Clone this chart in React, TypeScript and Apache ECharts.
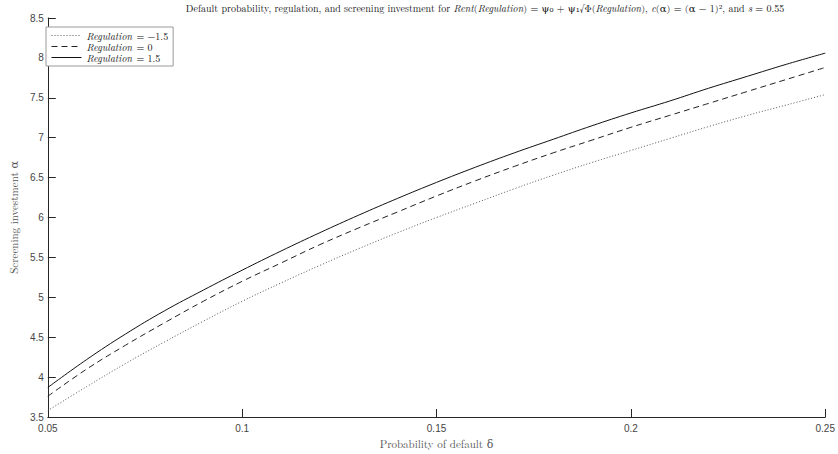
import React, { useEffect, useRef } from "react";
import * as echarts from "echarts";

const deltas = [0.05, 0.06, 0.07, 0.08, 0.09, 0.1, 0.11, 0.12, 0.13, 0.14, 0.15, 0.16, 0.17, 0.18, 0.19, 0.2, 0.21, 0.22, 0.23, 0.24, 0.25];
const regLow = [3.58, 3.88, 4.17, 4.44, 4.7, 4.95, 5.18, 5.4, 5.61, 5.81, 6.0, 6.18, 6.36, 6.53, 6.69, 6.84, 6.99, 7.14, 7.28, 7.41, 7.54];
const regMid = [3.76, 4.1, 4.4, 4.68, 4.95, 5.2, 5.43, 5.66, 5.87, 6.07, 6.27, 6.46, 6.64, 6.81, 6.97, 7.13, 7.28, 7.43, 7.58, 7.73, 7.88];
const regHigh = [3.87, 4.22, 4.54, 4.83, 5.09, 5.34, 5.58, 5.81, 6.03, 6.24, 6.44, 6.63, 6.81, 6.98, 7.15, 7.31, 7.46, 7.62, 7.77, 7.92, 8.06];
const seriesNames = ["Regulation = −1.5", "Regulation = 0", "Regulation = 1.5"];
const xTickLabels: Record<string, string> = { "0.05": "0.05", "0.1": "0.1", "0.15": "0.15", "0.2": "0.2", "0.25": "0.25" };

const SERIF = "'Latin Modern Roman', 'DejaVu Serif', 'Liberation Serif', serif";
const SANS = "'Liberation Sans', Arial, sans-serif";

export default function App() {
  const ref = useRef<HTMLDivElement>(null);
  useEffect(() => {
    if (!ref.current) return;
    const chart = echarts.init(ref.current, undefined, { renderer: "svg" });
    const mk = (vals: number[]) => deltas.map((d, i) => [d, vals[i]]);
    const lineStyles = [
      { color: "#555", width: 1, type: [1, 2] as any },
      { color: "#222", width: 1, type: [6, 4] as any },
      { color: "#111", width: 1, type: "solid" as any },
    ];
    const datas = [regLow, regMid, regHigh];
    chart.setOption({
      animation: false,
      backgroundColor: "#fff",
      title: {
        left: 485,
        textAlign: "center",
        top: 3,
        padding: 0,
        text: "Default probability, regulation, and screening investment for {i|Rent}({i|Regulation}) = ψ₀ + ψ₁√Φ({i|Regulation}), {i|c}(α) = (α − 1)², and {i|s} = 0.55",
        textStyle: {
          fontFamily: SERIF,
          fontSize: 10,
          fontWeight: "normal",
          color: "#111",
          rich: {
            i: { fontFamily: SERIF, fontSize: 10, fontStyle: "italic", color: "#111" },
          },
        },
      },
      legend: {
        left: 46,
        top: 27,
        orient: "vertical",
        data: seriesNames,
        itemWidth: 30,
        itemHeight: 8,
        itemGap: 0,
        padding: [3, 5, 3, 5],
        backgroundColor: "#fff",
        borderColor: "#999",
        borderWidth: 1,
        borderRadius: 0,
        itemStyle: { opacity: 0 },
        lineStyle: { width: 1 },
        formatter: (name: string) => {
          const parts = name.split(" = ");
          return "{i|" + parts[0] + "}{n| = " + parts[1] + "}";
        },
        textStyle: {
          fontFamily: SERIF,
          fontSize: 10,
          color: "#111",
          lineHeight: 11,
          rich: {
            i: { fontFamily: SERIF, fontSize: 10, fontStyle: "italic", color: "#111", lineHeight: 11, padding: [0, 1, 0, 0] },
            n: { fontFamily: SERIF, fontSize: 10, color: "#111", lineHeight: 11 },
          },
        },
      },
      grid: { left: 36, right: 11, top: 18, bottom: 33, containLabel: false },
      xAxis: {
        type: "value",
        min: 0.05,
        max: 0.25,
        interval: 0.05,
        name: "Probability of default δ",
        nameLocation: "middle",
        nameGap: 21,
        nameTextStyle: { fontFamily: SERIF, fontSize: 11, color: "#555" },
        axisLine: { show: true, lineStyle: { color: "#262626", width: 1 } },
        axisTick: { show: true, inside: true, length: 8, lineStyle: { color: "#262626" } },
        axisLabel: {
          fontFamily: SANS,
          fontSize: 10,
          color: "#444",
          margin: 6,
          formatter: (v: number) => xTickLabels[String(Math.round(v * 100) / 100)] ?? "",
        },
        splitLine: { show: false },
      },
      yAxis: {
        type: "value",
        min: 3.5,
        max: 8.5,
        interval: 0.5,
        name: "Screening investment α",
        nameLocation: "middle",
        nameGap: 22,
        nameTextStyle: { fontFamily: SERIF, fontSize: 11, color: "#555" },
        axisLine: { show: true, lineStyle: { color: "#262626", width: 1 } },
        axisTick: { show: true, inside: true, length: 8, lineStyle: { color: "#262626" } },
        axisLabel: { fontFamily: SANS, fontSize: 10, color: "#444", margin: 4 },
        splitLine: { show: false },
      },
      series: datas.map((d, i) => ({
        name: seriesNames[i],
        type: "line",
        data: mk(d),
        smooth: 0.4,
        showSymbol: false,
        symbol: "none",
        color: lineStyles[i].color,
        lineStyle: lineStyles[i],
      })),
    });
    return () => chart.dispose();
  }, []);
  return <div ref={ref} style={{ width: 838, height: 454, position: "absolute", left: 0, top: 0 }} />;
}
